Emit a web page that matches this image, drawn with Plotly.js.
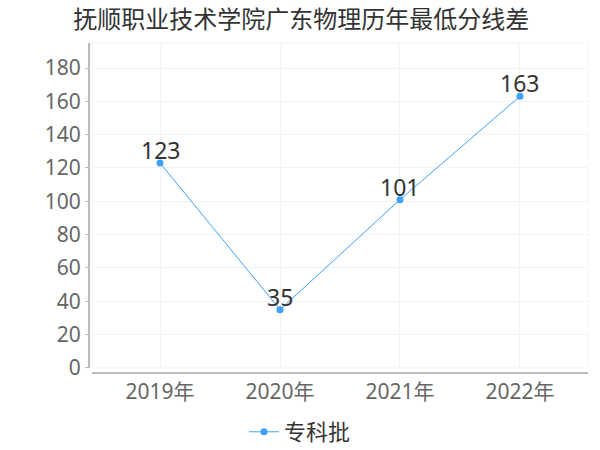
<!DOCTYPE html>
<html>
<head>
<meta charset="utf-8">
<script src="https://cdn.plot.ly/plotly-3.0.1.min.js"></script>
<style>html,body{margin:0;padding:0;background:#fff;}#chart{width:600px;height:450px;}</style>
</head>
<body>
<div id="chart"></div>
<script>
const years = ["2019年", "2020年", "2021年", "2022年"];
const values = [123, 35, 101, 163];
const seriesName = "专科批";
const titleText = "抚顺职业技术学院广东物理历年最低分线差";
const yTicks = [0, 20, 40, 60, 80, 100, 120, 140, 160, 180];

const font = '"Noto Sans", "Noto Sans CJK SC", sans-serif';
const trace = {
  type: 'scatter',
  mode: 'lines+markers',
  x: years,
  y: values,
  name: seriesName,
  line: {color: '#3ba0ff', width: 1},
  marker: {color: '#3ba0ff', size: 7},
  cliponaxis: false,
  hoverinfo: 'x+y'
};
const labels = years.map((yr, i) => ({
  x: yr, y: values[i], xref: 'x', yref: 'y',
  text: String(values[i]), showarrow: false,
  xanchor: 'center', yanchor: 'middle', yshift: 13,
  font: {family: font, size: 23, color: '#333'}
}));
const layout = {
  width: 600, height: 450,
  margin: {l: 88, r: 12, t: 43, b: 78, autoexpand: false},
  paper_bgcolor: '#fff', plot_bgcolor: '#fff',
  font: {family: font},
  title: {text: titleText, font: {family: font, size: 24, color: '#333'}, x: 0.502, xanchor: 'center', y: 0.957, yanchor: 'middle'},
  xaxis: {
    type: 'category', domain: [0.008, 1], range: [-0.567, 3.567],
    anchor: 'free', position: 0,
    showline: true, linecolor: '#bbb', linewidth: 1.5,
    showgrid: true, gridcolor: '#f2f2f2', gridwidth: 1,
    ticks: '', tickfont: {family: font, size: 21, color: '#666'},
    zeroline: false, fixedrange: true
  },
  yaxis: {
    domain: [0.0122, 1], range: [0, 195],
    anchor: 'free', position: 0,
    tickvals: yTicks, ticktext: yTicks.map(String),
    showline: true, linecolor: '#bbb', linewidth: 1.5,
    ticks: 'outside', ticklen: 3, tickcolor: '#bbb',
    showgrid: true, gridcolor: '#f2f2f2', gridwidth: 1,
    tickfont: {family: font, size: 21, color: '#666'},
    zeroline: false, fixedrange: true
  },
  annotations: labels,
  shapes: [{type: 'rect', xref: 'x domain', yref: 'y domain', x0: 0, x1: 1, y0: 0, y1: 1,
            line: {color: '#f2f2f2', width: 1}, layer: 'below'}],
  showlegend: true,
  legend: {orientation: 'h', x: 0.5, xanchor: 'center', xref: 'container', y: 0.04, yanchor: 'middle', yref: 'container',
           font: {family: font, size: 22, color: '#333'}, itemwidth: 30}
};
Plotly.newPlot('chart', [trace], layout, {displayModeBar: false, staticPlot: true});
</script>
</body>
</html>
